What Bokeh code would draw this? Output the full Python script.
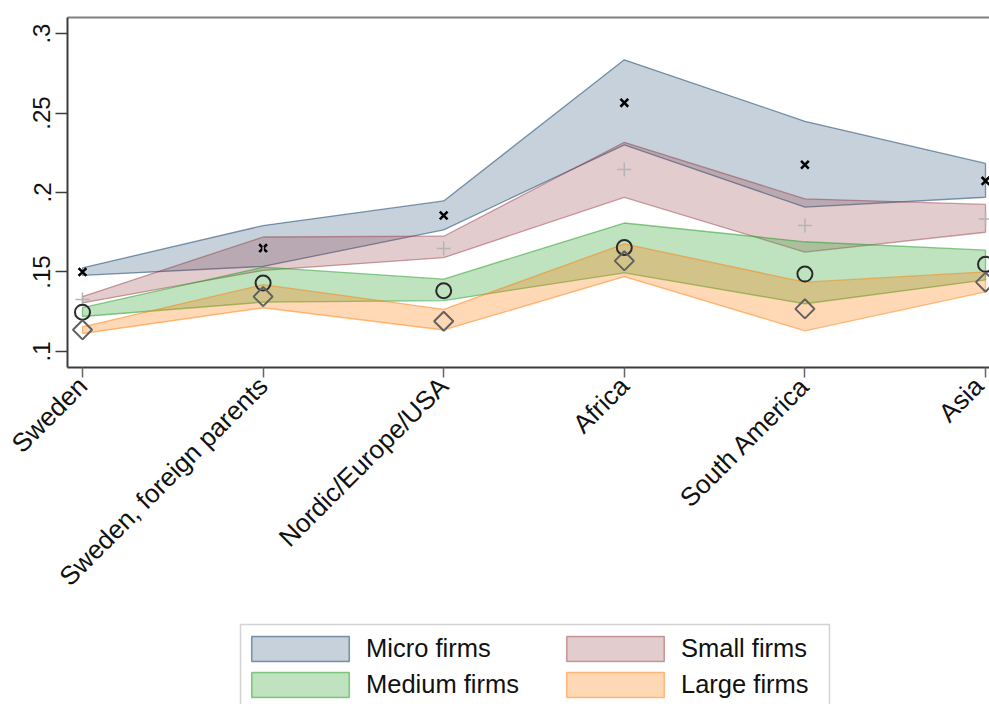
import math

from bokeh.plotting import figure
from bokeh.layouts import column
from bokeh.models import (Range1d, FixedTicker, LinearAxis, Legend, LegendItem,
                          BoxAnnotation)
from bokeh.embed import file_html
from bokeh.resources import INLINE

# Region of origin (x axis categories)
categories = ["Sweden", "Sweden, foreign parents", "Nordic/Europe/USA",
              "Africa", "South America", "Asia"]

# Point estimates and 95% bands by firm size
micro_mean = [0.1500, 0.1650, 0.1855, 0.2564, 0.2174, 0.2073]
micro_upper = [0.1526, 0.1792, 0.1947, 0.2835, 0.2448, 0.2183]
micro_lower = [0.1478, 0.1535, 0.1765, 0.2300, 0.1908, 0.1970]

small_mean = [0.1327, 0.1616, 0.1648, 0.2144, 0.1792, 0.1834]
small_upper = [0.1345, 0.1720, 0.1725, 0.2316, 0.1960, 0.1925]
small_lower = [0.1305, 0.1510, 0.1590, 0.1970, 0.1625, 0.1750]

medium_mean = [0.1247, 0.1430, 0.1382, 0.1654, 0.1487, 0.1548]
medium_upper = [0.1275, 0.1530, 0.1455, 0.1808, 0.1690, 0.1637]
medium_lower = [0.1220, 0.1310, 0.1320, 0.1495, 0.1300, 0.1450]

large_mean = [0.1136, 0.1345, 0.1190, 0.1570, 0.1268, 0.1436]
large_upper = [0.1155, 0.1420, 0.1265, 0.1677, 0.1436, 0.1500]
large_lower = [0.1113, 0.1275, 0.1135, 0.1470, 0.1130, 0.1375]

series_labels = ["Micro firms", "Small firms", "Medium firms", "Large firms"]
band_colors = ["#1a476f", "#90353b", "#2ca02c", "#ff7f0e"]
band_fill_alpha = [0.25, 0.25, 0.30, 0.30]
band_line_alpha = [0.55, 0.45, 0.55, 0.50]

y_ticks = [0.1, 0.15, 0.2, 0.25, 0.3]
y_tick_labels = [".1", ".15", ".2", ".25", ".3"]

FONT = "Liberation Sans"
TEXT = "#111111"

x = list(range(len(categories)))
bands = [(micro_upper, micro_lower), (small_upper, small_lower),
         (medium_upper, medium_lower), (large_upper, large_lower)]


def band_outline(upper, lower):
    """Closed polygon: along the upper bound, back along the lower bound."""
    return x + x[::-1], list(upper) + list(lower)[::-1]


# ---- main chart -----------------------------------------------------------
p = figure(width=989, height=610, output_backend="svg", toolbar_location=None,
           x_range=Range1d(-0.083, 5.022), y_range=Range1d(0.0899, 0.3101),
           min_border_left=67, min_border_right=0, min_border_top=17,
           min_border_bottom=243, outline_line_color=None,
           background_fill_color="white", border_fill_color="white")
p.grid.visible = False

p.yaxis.ticker = FixedTicker(ticks=y_ticks)
p.yaxis.major_label_overrides = dict(zip(y_ticks, y_tick_labels))
p.yaxis.major_label_orientation = "vertical"
p.yaxis.major_tick_out = 12
p.yaxis.major_tick_in = 0
p.yaxis.minor_tick_line_color = None
p.yaxis.axis_line_width = 2
p.yaxis.axis_line_color = "#3c3c3c"
p.yaxis.major_tick_line_color = "#3c3c3c"
p.yaxis.major_tick_line_width = 1.5
p.yaxis.major_label_standoff = 5
p.yaxis.major_label_text_font = FONT
p.yaxis.major_label_text_font_size = "24px"
p.yaxis.major_label_text_color = TEXT

p.xaxis.ticker = FixedTicker(ticks=x)
p.xaxis.major_label_overrides = dict(zip(x, categories))
p.xaxis.major_label_orientation = math.pi / 4
p.xaxis.major_tick_out = 10
p.xaxis.major_tick_in = 0
p.xaxis.minor_tick_line_color = None
p.xaxis.axis_line_width = 2
p.xaxis.axis_line_color = "#3c3c3c"
p.xaxis.major_tick_line_color = "#666666"
p.xaxis.major_tick_line_width = 1.5
p.xaxis.major_label_standoff = 4
p.xaxis.major_label_text_font = FONT
p.xaxis.major_label_text_font_size = "26px"
p.xaxis.major_label_text_color = TEXT

# top border of the plot region
top_axis = LinearAxis(ticker=FixedTicker(ticks=[]), major_tick_line_color=None,
                      minor_tick_line_color=None, major_label_text_font_size="0px",
                      axis_line_color="#808080", axis_line_width=2)
p.add_layout(top_axis, "above")

for (upper, lower), color, fa, la in zip(bands, band_colors, band_fill_alpha,
                                          band_line_alpha):
    xs, ys = band_outline(upper, lower)
    p.patch(xs, ys, fill_color=color, fill_alpha=fa, line_color=color,
            line_alpha=la, line_width=1.3)

p.scatter(x, micro_mean, marker="x", size=11, line_color="black", line_width=2.5)
p.scatter(x, small_mean, marker="cross", size=14, line_color="#b4b4b4", line_width=1.5)
p.scatter(x, medium_mean, marker="circle", size=15, fill_color=None,
          line_color="#2a2a2a", line_width=2)
p.scatter(x, large_mean, marker="square", angle=math.pi / 4, size=13.5,
          fill_color=None, line_color="#606060", line_width=2)

# ---- legend strip ---------------------------------------------------------
# Ranges of the strip are in pixels (x from the frame's left edge, y up from
# the bottom), so the band copies used for the swatches stay out of view.
leg = figure(width=989, height=94, output_backend="svg", toolbar_location=None,
             x_range=Range1d(0, 922), y_range=Range1d(0, 94),
             x_axis_type=None, y_axis_type=None, min_border=0,
             outline_line_color=None, background_fill_color="white",
             border_fill_color="white")
leg.grid.visible = False

# legend frame (its lower edge runs past the bottom of the page)
leg.add_layout(BoxAnnotation(left=173, right=762, top=80, bottom=-20,
                             fill_color="white", fill_alpha=1.0,
                             line_color="#6e6e6e", line_width=1.5))

swatch = {}
for label, (upper, lower), color, fa, la in zip(series_labels, bands, band_colors,
                                                 band_fill_alpha, band_line_alpha):
    xs, ys = band_outline(upper, lower)
    swatch[label] = leg.patch([v - 100 for v in xs], ys, fill_color=color,
                              fill_alpha=fa, line_color=color, line_alpha=la,
                              line_width=1.5)

legend_style = dict(orientation="vertical", glyph_width=122, glyph_height=31,
                    label_standoff=5, padding=0, spacing=5, margin=0,
                    label_text_font=FONT, label_text_font_size="25.5px",
                    label_text_color=TEXT, border_line_color=None,
                    background_fill_alpha=0.0)

left_col = Legend(items=[LegendItem(label=series_labels[0], renderers=[swatch[series_labels[0]]]),
                         LegendItem(label=series_labels[2], renderers=[swatch[series_labels[2]]])],
                  location=(172, 4), **legend_style)
right_col = Legend(items=[LegendItem(label=series_labels[1], renderers=[swatch[series_labels[1]]]),
                          LegendItem(label=series_labels[3], renderers=[swatch[series_labels[3]]])],
                   location=(487, 4), **legend_style)
leg.add_layout(left_col)
leg.add_layout(right_col)

open("out.html", "w").write(file_html(column(p, leg), INLINE))
